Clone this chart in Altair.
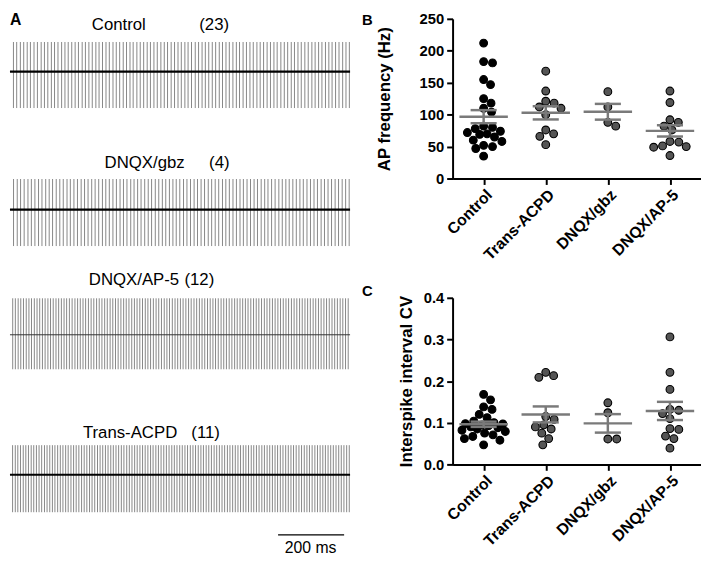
import altair as alt
import numpy as np
import pandas as pd

FONT = "Liberation Sans"

# ---------------- Panel A: example spike trains ----------------
trace_names = ["Control", "DNQX/gbz", "DNQX/AP-5", "Trans-ACPD"]
trace_n = ["(23)", "(4)", "(12)", "(11)"]

# inter-spike intervals (ms)
control_isi = [10.5, 9.8, 11.2, 10.1, 10.6, 9.7, 10.9, 10.3, 11.4, 9.9,
               10.2, 10.8, 9.6, 10.4, 11.0, 10.1, 9.9, 10.7, 10.3, 10.0,
               11.3, 9.8, 10.5, 10.2, 10.9, 9.7, 10.4, 10.6, 10.1, 11.1,
               9.9, 10.3, 10.8, 10.0, 10.5, 9.6, 11.2, 10.2, 10.4, 10.7,
               9.8, 10.6, 10.1, 10.9, 10.3, 9.9, 11.0, 10.2, 10.5, 10.0,
               10.8, 9.7, 10.4, 11.3, 10.1, 10.6, 9.9, 10.3, 10.7, 10.2,
               11.0, 9.8, 10.5, 10.1, 10.9, 10.4, 9.6, 10.8, 10.2, 10.6,
               10.0, 11.1, 9.9, 10.3, 10.7, 10.1, 10.5, 9.8, 11.2, 10.4,
               10.2, 10.9, 9.7, 10.6, 10.0, 10.8, 10.3, 11.0, 9.9, 10.5,
               10.1, 10.7, 10.2, 9.8, 10.6, 10.4, 11.1, 10.0, 10.3, 10.5]
gbz_isi = [10.8, 11.2, 10.1, 10.9, 11.5, 10.3, 10.7, 11.0, 10.4, 11.3,
           10.6, 10.2, 11.1, 10.8, 10.5, 11.4, 10.0, 10.9, 10.7, 11.2,
           10.3, 10.6, 11.0, 10.4, 10.8, 11.3, 10.2, 10.7, 10.9, 10.5,
           11.1, 10.3, 10.6, 11.4, 10.1, 10.8, 10.4, 11.0, 10.7, 10.2,
           11.2, 10.5, 10.9, 10.3, 11.1, 10.6, 10.0, 10.8, 11.3, 10.4,
           10.7, 11.0, 10.2, 10.9, 10.5, 11.2, 10.3, 10.8, 10.6, 11.4,
           10.1, 10.7, 11.0, 10.4, 10.9, 10.2, 11.1, 10.5, 10.8, 10.3,
           11.2, 10.6, 10.0, 10.9, 10.7, 11.3, 10.4, 10.8, 10.2, 11.0,
           10.5, 10.9, 10.3, 11.1, 10.6, 10.7, 10.4, 11.2, 10.1, 10.8,
           10.6, 10.9, 10.3, 11.0, 10.5, 10.7]
ap5_isi = [8.3, 8.0, 8.5, 7.9, 8.2, 8.4, 8.1, 7.8, 8.6, 8.2,
           8.0, 8.3, 8.1, 8.5, 7.9, 8.2, 8.4, 8.0, 8.3, 8.1,
           7.8, 8.4, 8.2, 8.6, 8.0, 8.1, 8.3, 7.9, 8.5, 8.2,
           8.1, 8.4, 8.0, 8.2, 8.3, 7.9, 8.6, 8.1, 8.2, 8.0,
           8.4, 8.3, 7.8, 8.2, 8.5, 8.1, 8.0, 8.3, 8.2, 8.4,
           7.9, 8.1, 8.5, 8.2, 8.0, 8.3, 8.4, 8.1, 7.8, 8.6,
           8.2, 8.0, 8.3, 8.1, 8.4, 8.2, 7.9, 8.5, 8.1, 8.3,
           8.0, 8.2, 8.4, 8.1, 8.3, 7.9, 8.2, 8.6, 8.0, 8.1,
           8.4, 8.2, 8.3, 7.8, 8.5, 8.1, 8.2, 8.0, 8.4, 8.3,
           8.1, 7.9, 8.2, 8.5, 8.0, 8.3, 8.2, 8.1, 8.4, 8.0,
           8.3, 8.2, 7.9, 8.6, 8.1, 8.2, 8.4, 8.0, 8.3, 8.1,
           8.2, 8.5, 7.8, 8.3, 8.1, 8.4, 8.0, 8.2, 8.3, 8.1,
           8.2, 8.4, 8.0, 8.3, 8.1]
acpd_isi = [7.9, 8.2, 7.6, 8.1, 8.4, 7.8, 8.0, 8.3, 7.7, 8.1,
            8.0, 7.9, 8.5, 7.8, 8.2, 8.0, 7.6, 8.3, 8.1, 7.9,
            8.2, 7.7, 8.4, 8.0, 7.8, 8.1, 8.3, 7.9, 8.0, 8.2,
            7.6, 8.1, 8.4, 7.8, 8.0, 8.2, 7.9, 8.3, 7.7, 8.1,
            8.0, 8.2, 7.8, 8.5, 7.9, 8.0, 8.1, 7.7, 8.3, 8.0,
            7.9, 8.2, 8.1, 7.6, 8.4, 7.8, 8.0, 8.2, 7.9, 8.1,
            8.3, 7.7, 8.0, 8.2, 7.8, 8.1, 7.9, 8.4, 8.0, 7.8,
            8.2, 8.1, 7.6, 8.3, 7.9, 8.0, 8.2, 7.8, 8.1, 8.0,
            7.9, 8.4, 7.7, 8.2, 8.0, 8.1, 7.8, 8.3, 7.9, 8.0,
            8.2, 7.6, 8.1, 8.0, 8.4, 7.8, 8.2, 7.9, 8.1, 8.0,
            7.7, 8.3, 8.0, 8.2, 7.9, 8.1, 7.8, 8.0, 8.4, 7.9,
            8.2, 8.0, 7.7, 8.1, 8.3, 7.9, 8.0, 8.2, 7.8, 8.1,
            8.0, 7.9, 8.2, 8.1, 7.8, 8.0, 8.3, 7.9]
trace_isis = [control_isi, gbz_isi, ap5_isi, acpd_isi]
spike_up = [30, 31, 37, 30]      # upward deflection (a.u.)
spike_down = [37, 37, 35, 38]    # downward deflection (a.u.)
trace_duration_ms = 1030
scalebar_ms = [812, 1012]
scalebar_label = "200 ms"

# ---------------- Panels B & C: group data ----------------
groups = ["Control", "Trans-ACPD", "DNQX/gbz", "DNQX/AP-5"]
freq_control = [212, 183, 181, 155, 147, 125, 118, 110, 104, 82, 80, 78,
                74, 72, 70, 69, 65, 60, 58, 52, 50, 47, 35]
freq_acpd = [168, 137, 121, 118, 112, 110, 100, 76, 70, 66, 53]
freq_gbz = [136, 112, 88, 82]
freq_ap5 = [137, 119, 92, 88, 82, 76, 58, 57, 51, 50, 49, 36]

cv_control = [0.168, 0.155, 0.138, 0.132, 0.120, 0.112, 0.104, 0.100, 0.098,
              0.097, 0.095, 0.093, 0.090, 0.088, 0.085, 0.082, 0.079, 0.075,
              0.071, 0.067, 0.062, 0.058, 0.047]
cv_acpd = [0.221, 0.213, 0.209, 0.115, 0.108, 0.095, 0.090, 0.085, 0.075,
           0.062, 0.047]
cv_gbz = [0.148, 0.124, 0.061, 0.061]
cv_ap5 = [0.306, 0.221, 0.180, 0.132, 0.130, 0.122, 0.110, 0.086, 0.084,
          0.068, 0.062, 0.039]

# ---------------- layout / style constants ----------------
LEFT_W, LEFT_H = 345, 540
baseline_px = [53.5, 193.5, 320.5, 462.5]
name_pos = [(83, 6.5), (96, 146.5), (80, 265.5), (74, 420.5)]
n_pos = [(192, 6.5), (202, 146.5), (177, 265.5), (184, 420.5)]
baseline_style = [("black", 2.2), ("black", 2.2), ("#333333", 1.0), ("black", 2.2)]
SPIKE_COLOR = "#868686"
SCALEBAR_Y = 523.5
SCALELABEL_Y = 537

PANEL_W = 252
B_H = 162
C_H = 169
SWARM_HALF_WIDTH = 22  # px


def trace_layer(i):
    isi = trace_isis[i]
    b = baseline_px[i]
    yscale = alt.Scale(domain=[-40, 40], range=[b + 40, b - 40])
    xscale = alt.Scale(domain=[0, trace_duration_ms])
    df = pd.DataFrame({"t": np.cumsum(isi)})
    df["lo"] = -spike_down[i]
    df["hi"] = spike_up[i]
    spikes = alt.Chart(df).mark_rule(color=SPIKE_COLOR, strokeWidth=1, clip=True).encode(
        x=alt.X("t:Q", scale=xscale, axis=None),
        y=alt.Y("lo:Q", scale=yscale, axis=None),
        y2="hi:Q",
    )
    col, w = baseline_style[i]
    bdf = pd.DataFrame({"t0": [0], "t1": [trace_duration_ms], "v": [0]})
    base = alt.Chart(bdf).mark_rule(color=col, strokeWidth=w).encode(
        x=alt.X("t0:Q", scale=xscale, axis=None),
        x2="t1:Q",
        y=alt.Y("v:Q", scale=yscale, axis=None),
    )
    return alt.layer(spikes, base)


def text_at(txt, x, y, size=17, weight="normal", align="left"):
    return alt.Chart(pd.DataFrame({"s": [txt]})).mark_text(
        font=FONT, fontSize=size, fontWeight=weight, align=align,
        baseline="middle", color="black"
    ).encode(x=alt.value(x), y=alt.value(y), text="s:N")


left_layers = [trace_layer(i) for i in range(4)]
for i in range(4):
    left_layers.append(text_at(trace_names[i], *name_pos[i]))
    left_layers.append(text_at(trace_n[i], *n_pos[i]))
left_layers.append(text_at("A", 0, 1, size=16, weight="bold"))
sb = pd.DataFrame({"a": [scalebar_ms[0]], "b": [scalebar_ms[1]]})
left_layers.append(
    alt.Chart(sb).mark_rule(color="black", strokeWidth=1.5).encode(
        x=alt.X("a:Q", scale=alt.Scale(domain=[0, trace_duration_ms]), axis=None),
        x2="b:Q",
        y=alt.value(SCALEBAR_Y),
    )
)
left_layers.append(text_at(scalebar_label, 305, SCALELABEL_Y, size=16, align="center"))

left = alt.layer(*left_layers).resolve_scale(y="independent").properties(
    width=LEFT_W, height=LEFT_H
)


# ---------------- scatter panels ----------------
def swarm(vals, px_per_unit, d=8.6, half=SWARM_HALF_WIDTH):
    order = sorted(range(len(vals)), key=lambda k: -vals[k])
    n = int(half * 2)
    cands = sorted([s * 0.5 for s in range(-n, n + 1)], key=lambda c: (abs(c), -c))
    placed = []
    offs = [0.0] * len(vals)
    for k in order:
        y = vals[k] * px_per_unit
        best, best_gap = 0.0, -1.0
        chosen = None
        for c in cands:
            gap = min([((c - px) ** 2 + (y - py) ** 2) ** 0.5 for px, py in placed] or [99])
            if gap >= d:
                chosen = c
                break
            if gap > best_gap:
                best, best_gap = c, gap
        if chosen is None:
            chosen = best
        offs[k] = chosen
        placed.append((chosen, y))
    return offs


def panel(series, ymax, ticks, fmt, title, letter, height, title_pad, letter_y):
    ypx = height / ymax
    xpx = PANEL_W / 4.0
    rows = []
    stats = []
    for gi, vals in enumerate(series):
        offs = swarm(vals, ypx)
        for v, o in zip(vals, offs):
            rows.append({"x": gi + o / xpx, "v": v, "ctrl": gi == 0})
        arr = np.array(vals, dtype=float)
        m = arr.mean()
        se = arr.std(ddof=1) / np.sqrt(len(arr))
        stats.append({"i": gi, "m": m, "lo": m - se, "hi": m + se,
                      "ml": gi - 0.39, "mr": gi + 0.39,
                      "cl": gi - 0.21, "cr": gi + 0.21})
    pts = pd.DataFrame(rows)
    st = pd.DataFrame(stats)

    xscale = alt.Scale(domain=[-0.5, 3.5], nice=False, zero=False)
    yscale = alt.Scale(domain=[0, ymax], nice=False)
    label_expr = "[" + ",".join("'%s'" % g for g in groups) + "][datum.value]"
    xaxis = alt.Axis(values=[0, 1, 2, 3], labelExpr=label_expr, labelAngle=315,
                     labelAlign="right", labelBaseline="top", title=None,
                     labelFont=FONT, labelFontSize=16, labelFontWeight="bold",
                     labelColor="black", domainColor="black", domainWidth=2,
                     tickColor="black", tickWidth=2, tickSize=6, labelPadding=2,
                     labelOverlap=False, labelBound=False, grid=False)
    yaxis = alt.Axis(values=ticks, format=fmt, title=title, titleFont=FONT,
                     titleFontSize=17, titleFontWeight="bold", titleColor="black",
                     titlePadding=title_pad, labelFont=FONT, labelFontSize=15,
                     labelFontWeight="bold", labelColor="black",
                     labelOverlap=False, labelBound=False,
                     domainColor="black", domainWidth=2, tickColor="black",
                     tickWidth=2, tickSize=6, labelPadding=3, grid=False)

    points = alt.Chart(pts).mark_point(
        shape="circle", filled=True, size=62, stroke="black", strokeWidth=1.1,
        opacity=1
    ).encode(
        x=alt.X("x:Q", scale=xscale, axis=xaxis),
        y=alt.Y("v:Q", scale=yscale, axis=yaxis),
        fill=alt.condition("datum.ctrl", alt.value("#000000"), alt.value("#555555")),
    )
    gray = "#7a7a7a"
    mean_r = alt.Chart(st).mark_rule(color=gray, strokeWidth=2.5).encode(
        x=alt.X("ml:Q", scale=xscale, axis=xaxis), x2="mr:Q",
        y=alt.Y("m:Q", scale=yscale, axis=yaxis))
    cap_lo = alt.Chart(st).mark_rule(color=gray, strokeWidth=2.5).encode(
        x=alt.X("cl:Q", scale=xscale, axis=xaxis), x2="cr:Q",
        y=alt.Y("lo:Q", scale=yscale, axis=yaxis))
    cap_hi = alt.Chart(st).mark_rule(color=gray, strokeWidth=2.5).encode(
        x=alt.X("cl:Q", scale=xscale, axis=xaxis), x2="cr:Q",
        y=alt.Y("hi:Q", scale=yscale, axis=yaxis))
    vert = alt.Chart(st).mark_rule(color=gray, strokeWidth=2.5).encode(
        x=alt.X("i:Q", scale=xscale, axis=xaxis),
        y=alt.Y("lo:Q", scale=yscale, axis=yaxis), y2="hi:Q")
    lab = text_at(letter, -92, letter_y, size=15, weight="bold")
    return alt.layer(points, mean_r, cap_lo, cap_hi, vert, lab).properties(
        width=PANEL_W, height=height)


pB = panel([freq_control, freq_acpd, freq_gbz, freq_ap5], 250,
           [0, 50, 100, 150, 200, 250], "d", "AP frequency (Hz)", "B", B_H, 26, 1)
pC = panel([cv_control, cv_acpd, cv_gbz, cv_ap5], 0.4,
           [0.0, 0.1, 0.2, 0.3, 0.4], ".1f", "Interspike interval CV", "C", C_H, 8, -7)

right = alt.vconcat(pB, pC, spacing=21)

chart = alt.hconcat(left, right, spacing=10).properties(padding=0).configure_view(
    stroke=None
)

chart.save("out.html", embed_options={"renderer": "svg", "actions": False})
